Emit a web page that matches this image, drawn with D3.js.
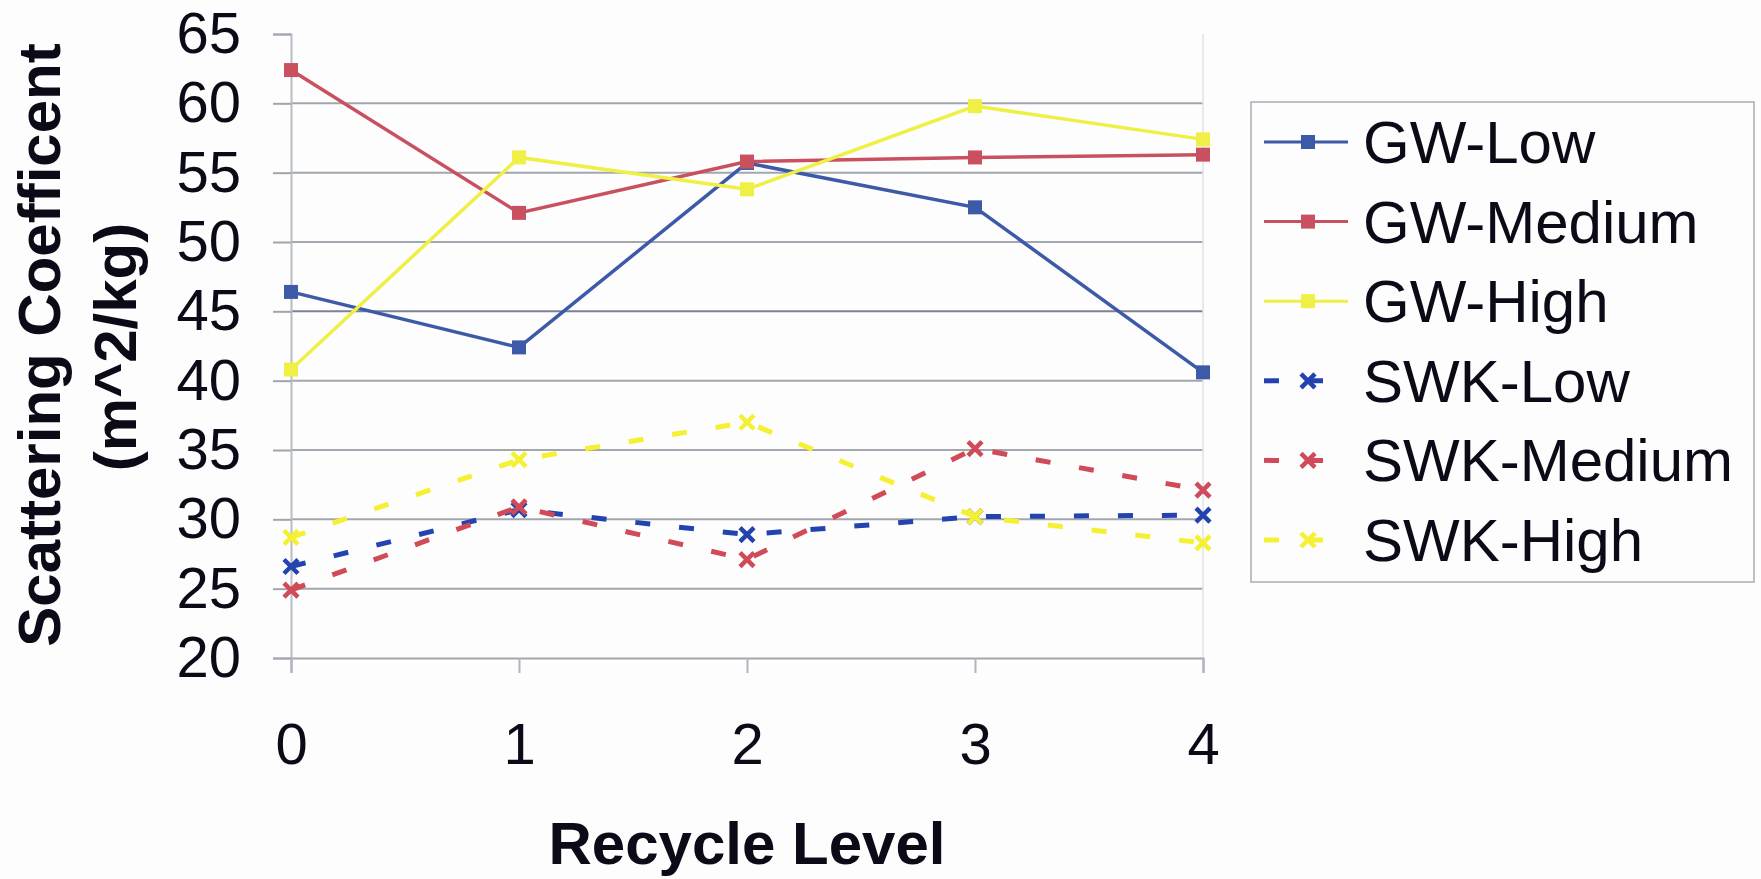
<!DOCTYPE html>
<html>
<head>
<meta charset="utf-8">
<script src="https://cdn.jsdelivr.net/npm/d3@7"></script>
<style>
  html, body { margin: 0; padding: 0; background: #fdfdfd; }
  svg { display: block; }
  text { font-family: "Liberation Sans", Arial, sans-serif; fill: #0b0b18; }
</style>
</head>
<body>
<svg id="chart" width="1761" height="879"></svg>
<script>
// ---- data ----
const categories = [0, 1, 2, 3, 4];
const seriesNames = ["GW-Low", "GW-Medium", "GW-High", "SWK-Low", "SWK-Medium", "SWK-High"];
const gwLow     = [46.4, 42.4, 55.7, 52.5, 40.6];
const gwMedium  = [62.4, 52.1, 55.8, 56.1, 56.3];
const gwHigh    = [40.8, 56.1, 53.8, 59.8, 57.4];
const swkLow    = [26.6, 30.7, 28.9, 30.2, 30.3];
const swkMedium = [24.9, 30.9, 27.1, 35.1, 32.1];
const swkHigh   = [28.7, 34.3, 37.0, 30.2, 28.3];
const yTicks = [20, 25, 30, 35, 40, 45, 50, 55, 60, 65];
const xTicks = [0, 1, 2, 3, 4];

const seriesValues = [gwLow, gwMedium, gwHigh, swkLow, swkMedium, swkHigh];
const seriesColors = ["#3d5aa8", "#c9505f", "#efef45", "#2343b0", "#d04a58", "#f5f032"];
const seriesDashed = [false, false, false, true, true, true];
const seriesMarker = ["square", "square", "square", "x", "x", "x"];

// ---- layout ----
const svg = d3.select("#chart");
const x = d3.scaleLinear().domain([0, 4]).range([291, 1203]);
const y = d3.scaleLinear().domain([20, 65]).range([658, 34]);

// gridlines
svg.append("g")
  .selectAll("line")
  .data(yTicks.filter(t => t > 20 && t < 65))
  .join("line")
  .attr("x1", x(0)).attr("x2", x(4))
  .attr("y1", d => y(d)).attr("y2", d => y(d))
  .attr("stroke", d => d === 45 ? "#7d8290" : "#a2a6ae")
  .attr("stroke-width", 2);

// right border (faint)
svg.append("line")
  .attr("x1", x(4)).attr("x2", x(4)).attr("y1", y(65)).attr("y2", y(20))
  .attr("stroke", "#e2e2e6").attr("stroke-width", 1.5);

// y axis
const yAxis = d3.axisLeft(y).tickValues(yTicks).tickSize(18).tickPadding(32).tickFormat(d3.format("d"));
const gy = svg.append("g").attr("transform", `translate(${x(0)},0)`).call(yAxis);
gy.select(".domain").attr("stroke", "#b8bcc4").attr("stroke-width", 2);
gy.selectAll(".tick line").attr("stroke", "#a0a4ac").attr("stroke-width", 2);
gy.selectAll(".tick text").attr("font-size", 58).attr("font-family", "Liberation Sans, Arial, sans-serif").attr("fill", "#0b0b18");

// x axis
const xAxis = d3.axisBottom(x).tickValues(xTicks).tickSize(15).tickPadding(50).tickFormat(d3.format("d"));
const gx = svg.append("g").attr("transform", `translate(0,${y(20)})`).call(xAxis);
gx.select(".domain").attr("stroke", "#a2a6ae").attr("stroke-width", 2);
gx.selectAll(".tick line").attr("stroke", "#b0b4bc").attr("stroke-width", 2);
gx.selectAll(".tick text").attr("font-size", 58).attr("font-family", "Liberation Sans, Arial, sans-serif").attr("fill", "#0b0b18");

// titles
svg.append("text")
  .attr("x", 747).attr("y", 864)
  .attr("text-anchor", "middle")
  .attr("font-size", 60).attr("font-weight", "bold")
  .text("Recycle Level");

svg.append("text")
  .attr("transform", "translate(60,345) rotate(-90)")
  .attr("text-anchor", "middle")
  .attr("font-size", 60).attr("font-weight", "bold")
  .text("Scattering Coefficent");
svg.append("text")
  .attr("transform", "translate(136,347) rotate(-90)")
  .attr("text-anchor", "middle")
  .attr("font-size", 60).attr("font-weight", "bold")
  .text("(m^2/kg)");

// series
const line = d3.line().x((d, i) => x(categories[i])).y(d => y(d));

function drawMarker(g, kind, cx, cy, color) {
  if (kind === "square") {
    g.append("rect")
      .attr("x", cx - 7).attr("y", cy - 7).attr("width", 14).attr("height", 14)
      .attr("fill", color);
  } else {
    const s = 7;
    g.append("path")
      .attr("d", `M${cx - s},${cy - s}L${cx + s},${cy + s}M${cx - s},${cy + s}L${cx + s},${cy - s}`)
      .attr("stroke", color).attr("stroke-width", 4.5).attr("fill", "none");
  }
}

seriesValues.forEach((vals, si) => {
  const g = svg.append("g");
  g.append("path")
    .attr("d", line(vals))
    .attr("fill", "none")
    .attr("stroke", seriesColors[si])
    .attr("stroke-width", seriesDashed[si] ? 5 : 3.5)
    .attr("stroke-dasharray", seriesDashed[si] ? "15,29" : null);
  vals.forEach((v, i) => drawMarker(g, seriesMarker[si], x(categories[i]), y(v), seriesColors[si]));
});

// legend
const lg = svg.append("g");
lg.append("rect")
  .attr("x", 1251).attr("y", 102).attr("width", 503).attr("height", 480)
  .attr("fill", "#fdfdfd").attr("stroke", "#a8acb4").attr("stroke-width", 1.5);

seriesNames.forEach((name, i) => {
  const ry = 142 + i * 79.6;
  lg.append("line")
    .attr("x1", 1264).attr("x2", 1348).attr("y1", ry).attr("y2", ry)
    .attr("stroke", seriesColors[i])
    .attr("stroke-width", seriesDashed[i] ? 5 : 3)
    .attr("stroke-dasharray", seriesDashed[i] ? "15,29" : null);
  drawMarker(lg, seriesMarker[i], 1308, ry, seriesColors[i]);
  lg.append("text")
    .attr("x", 1363).attr("y", ry + 21)
    .attr("font-size", 60)
    .text(name);
});
</script>
</body>
</html>
